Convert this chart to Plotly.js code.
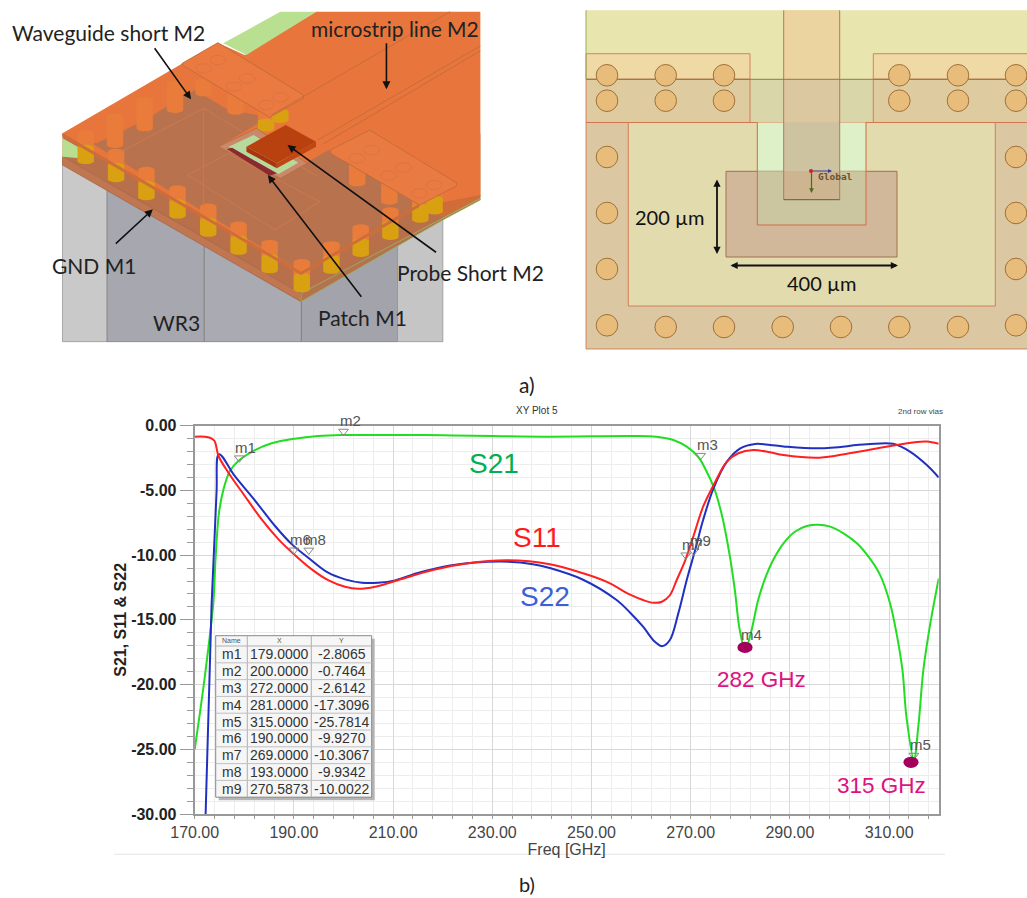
<!DOCTYPE html>
<html><head><meta charset="utf-8">
<script src="https://cdn.plot.ly/plotly-3.0.1.min.js"></script>
<style>html,body{margin:0;padding:0;background:#fff}#chart{width:1027px;height:898px}</style>
</head><body><div id="chart"></div>
<script>
// ---------- chart data ----------
const s21Freq = [170,172,173.75,174.2,174.9,175.8,177.1,178.8,181.8,185.5,190.2,194.9,199.6,210.4,220,230,241.6,257.8,263.1,266.5,269.2,271.5,272.9,274.6,276.2,277.9,278.9,279.9,281,282.2,283.6,285,286.6,288.7,291,293.4,295.7,298.1,300.8,303.5,306.1,308.2,310.2,311.5,312.7,313.5,315,315.9,316.9,318.2,319.3,320];
const s21Vals = [-25,-19.5,-13.67,-10.3,-6.72,-4.92,-3.5,-2.73,-1.96,-1.36,-1,-0.8,-0.72,-0.72,-0.74,-0.8,-0.85,-0.8,-0.85,-1.1,-1.62,-2.4,-3.3,-4.71,-6.77,-10.1,-12.7,-15.8,-17.3,-15.9,-13.47,-11.8,-10.4,-9.09,-8.19,-7.75,-7.65,-7.8,-8.32,-9.09,-10.25,-11.54,-13.73,-16.04,-18.9,-22.5,-25.8,-23.2,-18.9,-15.53,-13.2,-11.8];
const s11Freq = [170,172,173.1,174,174.8,176.8,180.1,183.5,186.9,189.9,193.6,196.9,200.3,203,206.4,210.4,218,224.8,232.9,241.6,248.3,253,257.8,260.4,262.5,264.2,265.8,267.2,268.9,270.5,272.5,274.6,277.3,279.6,282.6,286,288.7,296,302,308.8,315.6,317.6,320];
const s11Vals = [-0.85,-0.85,-0.93,-1.18,-2.34,-3.63,-5.43,-7.24,-8.78,-9.89,-11.1,-11.93,-12.44,-12.6,-12.44,-12,-11.15,-10.65,-10.4,-10.7,-11.4,-12.05,-13.05,-13.47,-13.68,-13.6,-13.1,-11.9,-10.4,-8.6,-6.26,-4.6,-2.78,-2.13,-1.88,-2.06,-2.27,-2.47,-2.13,-1.67,-1.26,-1.23,-1.4];
const s22Freq = [172.2,173.4,174.4,174.9,178.1,182.2,186.2,189.6,192.9,196.9,200.3,203.7,207,210.4,214.8,221.5,231.6,238.2,241.6,248.3,255,257.8,260.4,262.8,264.3,265.8,267.5,269.2,270.9,272.5,274.6,277.3,280,283,286,288.7,296,305.5,310.8,314.2,317.6,320];
const s22Vals = [-30,-13.9,-5.17,-2.2,-3.9,-5.8,-7.75,-9.17,-10.2,-11.36,-11.87,-12.13,-12.13,-11.95,-11.4,-10.8,-10.5,-10.7,-11,-11.9,-13.45,-14.45,-15.53,-16.7,-17.03,-16.56,-14.5,-11.92,-9.6,-7.29,-4.84,-2.78,-1.75,-1.41,-1.49,-1.6,-1.75,-1.44,-1.4,-2,-3.04,-4];
const markerNames = ['m1','m2','m3','m4','m5','m6','m7','m8','m9'];
const markerFreq = [179,200,272,281,315,190,269,193,270.5873];
const markerVals = [-2.8065,-0.7464,-2.6142,-17.3096,-25.7814,-9.9270,-10.3067,-9.9342,-10.0022];
const tableHeader = ['Name','X','Y'];
const xTickVals = [170,190,210,230,250,270,290,310];
const xTickText = ['170.00','190.00','210.00','230.00','250.00','270.00','290.00','310.00'];
const yTickVals = [0,-5,-10,-15,-20,-25,-30];
const yTickText = ['0.00','-5.00','-10.00','-15.00','-20.00','-25.00','-30.00'];

// ---------- page layout ----------
const W = 1027, H = 898;
const plot = {l:194.7, r:938.7, t:425.7, b:814};
const shapes = [], notes = [];
const px = {xref:'x2', yref:'y2'};
const zx = v => v/2.8, zy = v => v/3;
function poly(pts, fill, line, lw){
  shapes.push({...px, type:'path', layer:'above',
    path:'M'+pts.map(p=>p[0]+' '+p[1]).join(' L')+' Z',
    fillcolor:fill||'rgba(0,0,0,0)', line:{color:line||'rgba(0,0,0,0)', width:line?(lw||1):0}});
}
function polyZ(pts, fill, line, lw){ poly(pts.map(p=>[zx(p[0]),zy(p[1])]), fill, line, lw); }
function rect(x0,y0,x1,y1,fill,line,lw){
  shapes.push({...px, type:'rect', layer:'above', x0,y0,x1,y1, fillcolor:fill||'rgba(0,0,0,0)',
    line:{color:line||'rgba(0,0,0,0)', width:line?(lw||1):0}});
}
function ell(cx,cy,rx,ry,fill,line,lw){
  shapes.push({...px, type:'circle', layer:'above', x0:cx-rx,x1:cx+rx,y0:cy-ry,y1:cy+ry, fillcolor:fill||'rgba(0,0,0,0)',
    line:{color:line||'rgba(0,0,0,0)', width:line?(lw||1):0}});
}
function seg(x0,y0,x1,y1,color,w){
  shapes.push({...px, type:'line', layer:'above', x0,y0,x1,y1, line:{color, width:w||1}});
}
function segZ(a,b,c,d,color,w){ seg(zx(a),zy(b),zx(c),zy(d),color,w); }
function cyl(cx,top,bot,color,w){          // crop coordinates
  const rx=zx(w||23), ry=zy(9);
  rect(zx(cx)-rx,zy(top),zx(cx)+rx,zy(bot),color);
  ell(zx(cx),zy(top),rx,ry,color);
  ell(zx(cx),zy(bot),rx,ry,color);
}
function label(text,x,y,size,color,family,extra){
  notes.push(Object.assign({xref:'x2',yref:'y2',x,y,text,showarrow:false,xanchor:'center',yanchor:'middle',
    font:{size,color,family:family||'Lato, sans-serif'}},extra||{}));
}
function arrow(x0,y0,x1,y1,both,width,size,color){
  notes.push({xref:'x2',yref:'y2',axref:'x2',ayref:'y2',x:x1,y:y1,ax:x0,ay:y0,text:'',showarrow:true,
    arrowhead:2,arrowside:both?'end+start':'end',arrowsize:size||1,arrowwidth:width||1.6,arrowcolor:color||'#111',standoff:0,startstandoff:0});
}
const SANS='Liberation Sans, Arial, sans-serif';

// ---------- left drawing: 3D view ----------
const edgeL = x => 400+(x-175)*0.636;
const edgeR = x => 825-(x-843)*0.617;
rect(zx(175),zy(480),zx(300),zy(1025),'#c9c9c9','#8e8e8e',0.7);
rect(zx(300),zy(480),zx(572),zy(1025),'#a7a7af','#777',0.7);
rect(zx(572),zy(600),zx(844),zy(1025),'#aaaab2','#777',0.7);
rect(zx(844),zy(600),zx(1113),zy(1025),'#a3a3ab','#777',0.7);
rect(zx(1113),zy(600),zx(1240),zy(1025),'#c5c5c5','#8e8e8e',0.7);
polyZ([[175,470],[843,880],[1345,595],[1345,400],[175,400]],'#b8704a');
polyZ([[175,470],[843,880],[843,905],[175,495]],'#c07650','#a8603c',0.7);
polyZ([[843,880],[1345,595],[1345,600],[1240,660],[843,905]],'#b5724e','#8fbf5a',0.7);
polyZ([[175,415],[225,445],[225,475],[175,470]],'#b9de92');
// top plate
polyZ([[175,400],[610,128],[685,165],[885,35],[1345,35],[1345,590],[1240,650],[1175,620],[843,825]],'#e8763c');
polyZ([[625,130],[785,35],[885,35],[690,165]],'#b8e090');
// darker see-through region
polyZ([[250,425],[270,430],[340,395],[430,345],[465,320],[545,270],[640,330],[720,345],[755,350],[612,440],[785,535],[855,490],[920,450],[1175,610],[1095,680],[870,800],[843,815]],'#b9724e');
polyZ([[175,400],[843,815],[843,825],[175,410]],'#cf6d3a');
polyZ([[843,815],[1175,610],[1175,620],[843,825]],'#cf6d3a');
polyZ([[1175,620],[1240,650],[1345,590],[1345,585]],'#d06c38');
// vias behind the plate
[[240,400,440],[322,350,435],[405,300,385],[490,250,330],[570,245,280],[660,250,335],[745,310,390],[1000,465,550],[1090,530,605]].forEach(v=>cyl(v[0],v[1],v[2],'#e97c3a'));
// front row of vias
[240,325,410,497,583,668,755,845].forEach(x=>{const e=edgeL(x); if(x>240) cyl(x,e-40,e,'#e97c3a'); cyl(x,e+2,e+42,'#d9a012');});
[928,1010,1093,1177,1217].forEach(x=>{const e=edgeR(x); cyl(x,e-40,e,'#e97c3a'); cyl(x,e+2,e+40,'#d9a012');});
cyl(785,335,360,'#d9a012'); cyl(745,365,385,'#d9a012');
// redraw plate edges over the vias
polyZ([[175,400],[843,815],[843,825],[175,410]],'#cf6d3a');
polyZ([[843,815],[1175,610],[1175,620],[843,825]],'#cf6d3a');
// short plates
polyZ([[510,190],[610,128],[850,285],[850,295],[755,352],[510,195]],'#ea7a40','#bd6a3a',0.8);
polyZ([[925,450],[1035,390],[1278,548],[1278,558],[1175,615],[925,460]],'#e97a42','#bd6a3a',0.8);
[[610,180],[692,235],[785,292],[570,205],[655,260],[745,315],[1040,450],[1130,503],[1215,555],[1000,475],[1088,527],[1175,580]].forEach(c=>ell(zx(c[0]),zy(c[1]),zx(22),zy(14),'rgba(0,0,0,0)','#d27040',0.6));
// thin outlines seen through the plate
segZ(330,460,570,325,'#d07a50',0.8); segZ(570,325,890,530,'#d07a50',0.8); segZ(570,325,570,620,'#d07a50',0.8);
polyZ([[525,525],[640,460],[895,605],[770,690]],'rgba(0,0,0,0)','#d07a50',0.8);
// microstrip edges
segZ(760,345,1260,35,'#bd6a3a',0.8); segZ(890,420,1345,138,'#bd6a3a',0.8); segZ(905,432,1345,152,'#bd6a3a',0.8);
// cut-out and probe short
polyZ([[612,440],[718,385],[860,490],[785,535]],'#c98a6a','#b86a42',0.8);
polyZ([[640,440],[710,405],[835,488],[780,522]],'#b7d99c');
polyZ([[635,447],[650,443],[775,520],[755,527]],'#8a2a30');
polyZ([[690,440],[775,490],[775,505],[690,455]],'#a83510');
polyZ([[775,490],[885,425],[885,440],[775,505]],'#bf4812');
polyZ([[690,440],[800,375],[885,425],[775,490]],'#b8410f');
// labels and arrows
label('Waveguide short M2',108,32,21,'#222');
label('microstrip line M2',394.6,28,21,'#222');
label('GND M1',93.6,265,21,'#222');
label('WR3',176,322,21,'#222');
label('Patch M1',362.5,317,21,'#222');
label('Probe Short M2',470,272,21,'#222');
arrow(zx(430),zy(140),zx(535),zy(298)); arrow(zx(1082),zy(125),zx(1082),zy(268)); arrow(zx(320),zy(735),zx(428),zy(628));
arrow(zx(1225),zy(760),zx(805),zy(435)); arrow(zx(1015),zy(895),zx(750),zy(525));

// ---------- right drawing: top view ----------
const LX=586, RX=1027, TY=10.3, BY=349;
rect(LX,TY,RX,79.3,'#e9e5ae');
rect(LX,79.3,RX,122.5,'#d9d6a9');
rect(LX,53.7,750,79.3,'#efd9a4','#d26a45',0.8);
rect(LX,79.3,750,122.5,'#decba0','#d26a45',0.8);
rect(873.3,53.7,RX+5,79.3,'#efd9a4','#d26a45',0.8);
rect(873.3,79.3,RX+5,122.5,'#decba0','#d26a45',0.8);
rect(LX,122.5,RX+5,BY,'#dbc8a2','#d26a45',0.8);
rect(628.3,122.5,995.3,306,'#e2dbae','#d26a45',0.8);
rect(757.3,122.5,866,171.3,'#ddf0c8');
rect(726,171.3,897,257,'#d2b89a','#a07050',1);
rect(757.3,171.3,866,225,'#cbc5a0');
seg(757.3,122.5,757.3,225,'#d26a45',1); seg(866,122.5,866,225,'#d26a45',1); seg(757.3,225,866,225,'#d26a45',1);
rect(783.7,TY,839.7,79.3,'#ecd4a0');
rect(783.7,79.3,839.7,122.5,'#dcc8a0');
rect(783.7,122.5,839.7,171.3,'#cdc3a0');
rect(783.7,171.3,839.7,199.7,'#ccb590');
seg(783.7,TY,783.7,199.7,'#b47a50',1); seg(839.7,TY,839.7,199.7,'#b47a50',1); seg(783.7,199.7,839.7,199.7,'#6b5a3a',1);
seg(LX,79.3,RX,79.3,'#8a7a50',1);
seg(LX,TY,LX,79.3,'#8fb060',1);
const via=(x,y)=>ell(x,y,10.8,10.8,'#e8bd7b','#a0703a',1);
[607,665.7,724,899.3,958,1016].forEach(x=>{via(x,75.3);via(x,100.7);});
[157,213,269].forEach(y=>{via(607,y);via(1016,y);});
via(607,325.3); via(1016,325.3);
[665.7,724,782.7,841,899.3,958].forEach(x=>via(x,327));
ell(811,171,2,2,'#d02020');
arrow(811,171,832,171,false,1,0.8,'#3a3aa0');
arrow(811.5,171,811.5,193,false,1.2,0.8,'#4f6a20');
label('<b>Global</b>',835.7,176,9.5,'#6b5030','DejaVu Sans Mono, monospace');
arrow(717,178,717,254,true,1.8,0.8);
arrow(729,265.5,898,265.5,true,1.8,0.8);
label('200 µm',669,216.5,20,'#111');
label('400 µm',821.7,283,20,'#111');
label('a)',527,384,21,'#222');

// ---------- overlays on the S-parameter plot ----------
ell(745,647.4,7.6,5.6,'#a3005e');
ell(911,762.3,7.6,5.6,'#a3005e');
label('S21',493.7,463.3,28,'#00b050',SANS);
label('S11',537,537,28,'#ff1a1a',SANS);
label('S22',544.5,596.5,28,'#3b5fd6',SANS);
label('282 GHz',761,679.3,22.5,'#e0107f',SANS);
label('315 GHz',881.7,785.7,22.5,'#e0107f',SANS);
label('b)',527,884,20,'#222');
label('XY Plot 5',537,410,10,'#333',SANS);
label('2nd row vias',920,411,8,'#444',SANS);
seg(114,854.3,945,854.3,'#e4e4e4',1);

// ---------- marker table ----------
const tbl={x:[215.7,247.3,311.3,371.7],top:635.7,head:10.3,row:16.8};
const tblBottom=tbl.top+tbl.head+tbl.row*markerNames.length;
rect(tbl.x[0]+3,tbl.top+3,tbl.x[3]+3,tblBottom+3,'#b5b5b5');
rect(tbl.x[0],tbl.top,tbl.x[3],tblBottom,'#f6f6f6','#888',1);
tbl.x.slice(1,3).forEach(x=>seg(x,tbl.top,x,tblBottom,'#b0b0b0',1));
seg(tbl.x[0],tbl.top+tbl.head,tbl.x[3],tbl.top+tbl.head,'#b0b0b0',1);
markerNames.forEach((n,i)=>{
  const y=tbl.top+tbl.head+tbl.row*(i+1);
  if(i<markerNames.length-1) seg(tbl.x[0],y,tbl.x[3],y,'#c0c0c0',1);
  const cy=y-tbl.row/2;
  [n,markerFreq[i].toFixed(4),markerVals[i].toFixed(4)].forEach((t,c)=>
    label(t,(tbl.x[c]+tbl.x[c+1])/2,cy,14,'#333',SANS));
});
tableHeader.forEach((t,c)=>label(t,(tbl.x[c]+tbl.x[c+1])/2,tbl.top+tbl.head/2,7,'#555',SANS));

markerNames.forEach((n,i)=>notes.push({xref:'x',yref:'y',x:markerFreq[i],y:markerVals[i],text:n,showarrow:false,
  xanchor:'center',yanchor:'middle',xshift:6.5,yshift:15,font:{size:15,color:'#555',family:SANS}}));

// ---------- traces ----------
const curve=(name,x,y,color)=>({type:'scatter',mode:'lines',name,x,y,xaxis:'x',yaxis:'y',showlegend:false,hoverinfo:'x+y+name',
  line:{color,width:2,shape:'spline',smoothing:1}});
const traces=[
  curve('S21',s21Freq,s21Vals,'#22dd22'),
  curve('S22',s22Freq,s22Vals,'#2030c0'),
  curve('S11',s11Freq,s11Vals,'#ff2020'),
  {type:'scatter',mode:'markers',name:'markers',x:markerFreq,y:markerVals,text:markerNames,xaxis:'x',yaxis:'y',showlegend:false,
   marker:{symbol:'triangle-up-open',angle:180,size:8.5,standoff:4,color:'#888',line:{color:'#888',width:1}}}
];

const layout={
  width:W,height:H,margin:{l:0,r:0,t:0,b:0,pad:0},paper_bgcolor:'#fff',plot_bgcolor:'rgba(0,0,0,0)',showlegend:false,
  font:{family:SANS},
  xaxis:{domain:[plot.l/W,plot.r/W],range:[170,320],anchor:'y',tickmode:'array',tickvals:xTickVals,ticktext:xTickText,
    ticks:'outside',ticklen:3,tickcolor:'#999',tickfont:{size:16,color:'#444'},
    showline:true,mirror:true,linecolor:'#999',linewidth:2,showgrid:true,gridcolor:'#d8d8d8',gridwidth:1,zeroline:false,
    minor:{tickmode:'linear',tick0:170,dtick:4,showgrid:true,gridcolor:'#ededed',gridwidth:1,ticks:'outside',ticklen:3,tickcolor:'#999'},
    title:{text:'Freq [GHz]',font:{size:16,color:'#444'},standoff:1}},
  yaxis:{domain:[1-plot.b/H,1-plot.t/H],range:[-30,0],anchor:'x',tickmode:'array',tickvals:yTickVals,ticktext:yTickText,
    ticks:'outside',ticklen:13,tickcolor:'#999',tickfont:{size:16,color:'#222',weight:700},
    showline:true,mirror:true,linecolor:'#999',linewidth:2,showgrid:true,gridcolor:'#d8d8d8',gridwidth:1,zeroline:false,
    minor:{tickmode:'linear',tick0:0,dtick:1,showgrid:true,gridcolor:'#ededed',gridwidth:1,ticks:'outside',ticklen:6,tickcolor:'#999'},
    title:{text:'S21, S11 & S22',font:{size:16,color:'#222',weight:700},standoff:1}},
  xaxis2:{domain:[0,1],range:[0,W],anchor:'y2',visible:false,fixedrange:true},
  yaxis2:{domain:[0,1],range:[H,0],anchor:'x2',visible:false,fixedrange:true},
  shapes,annotations:notes
};
Plotly.newPlot('chart',traces,layout,{displayModeBar:false});
</script></body></html>
